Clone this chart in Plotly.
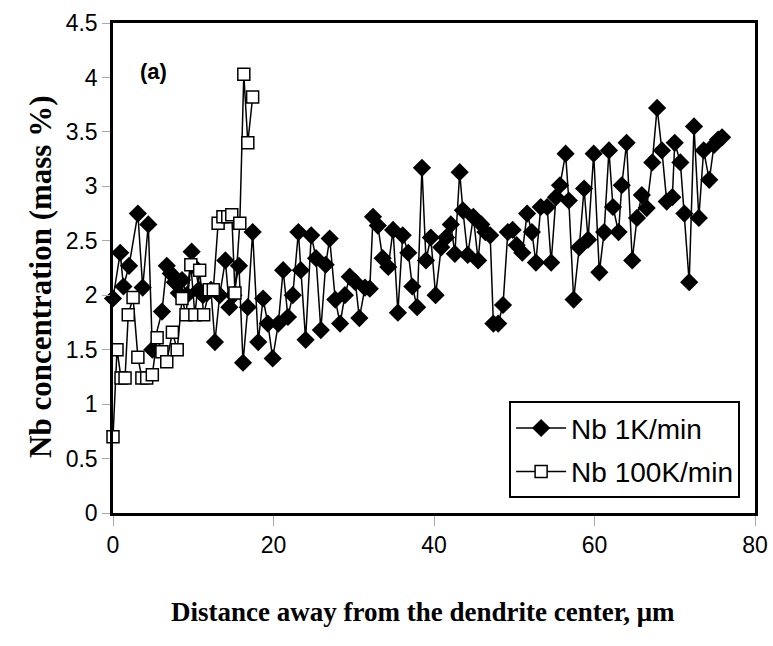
import plotly.graph_objects as go

# Nb 1K/min (diamonds)
x_1k = [0, 0.9, 1.3, 2.0, 3.1, 3.7, 4.4, 4.9, 6.1, 6.7, 7.2, 7.7, 8.2, 8.6, 9.2, 9.8,
        10.3, 10.7, 11.2, 11.7, 12.2, 12.7, 13.3, 14.0, 14.5, 15.0, 15.7, 16.2, 16.8,
        17.4, 18.1, 18.7, 19.3, 19.9, 20.6, 21.2, 21.8, 22.4, 23.1, 23.4, 24.0, 24.7,
        25.3, 25.9, 26.5, 27.0, 27.7, 28.3, 28.9, 29.5, 30.2, 30.7, 31.4, 32.0, 32.4,
        33.0, 33.6, 34.3, 34.9, 35.5, 36.1, 36.8, 37.3, 37.9, 38.5, 39.0, 39.6, 40.2,
        40.9, 41.5, 42.1, 42.6, 43.2, 43.6, 44.2, 44.9, 45.5, 45.9, 46.4, 47.0, 47.4,
        48.0, 48.6, 49.2, 49.8, 50.3, 51.0, 51.6, 52.2, 52.7, 53.3, 54.1, 54.6, 55.2,
        55.7, 56.4, 56.8, 57.4, 58.1, 58.7, 59.2, 59.9, 60.6, 61.2, 61.8, 62.3, 63.0,
        63.4, 64.0, 64.7, 65.3, 65.9, 66.5, 67.2, 67.8, 68.4, 69.0, 69.7, 70.0, 70.7,
        71.2, 71.8, 72.4, 73.0, 73.6, 74.3, 74.9, 75.4, 75.9]
y_1k = [1.97, 2.39, 2.08, 2.27, 2.75, 2.07, 2.65, 1.50, 1.85, 2.27, 2.20, 2.12, 2.02, 2.14, 2.00, 2.40,
        2.25, 2.05, 2.00, 2.02, 2.05, 1.57, 2.00, 2.32, 1.89, 2.00, 2.27, 1.38, 1.89,
        2.58, 1.57, 1.97, 1.74, 1.42, 1.74, 2.23, 1.80, 2.00, 2.58, 2.23, 1.59, 2.55,
        2.34, 1.68, 2.28, 2.52, 1.96, 1.74, 2.00, 2.17, 2.12, 1.79, 2.07, 2.06, 2.72,
        2.64, 2.34, 2.26, 2.60, 1.84, 2.55, 2.39, 2.08, 1.89, 3.17, 2.32, 2.53, 2.00,
        2.44, 2.53, 2.65, 2.38, 3.13, 2.78, 2.37, 2.72, 2.32, 2.65, 2.58, 2.55, 1.74,
        1.74, 1.91, 2.58, 2.60, 2.46, 2.39, 2.75, 2.58, 2.30, 2.81, 2.81, 2.30, 2.90,
        3.01, 3.30, 2.87, 1.96, 2.44, 2.98, 2.51, 3.30, 2.21, 2.58, 3.33, 2.81, 2.58,
        3.01, 3.40, 2.32, 2.71, 2.92, 2.80, 3.22, 3.72, 3.33, 2.86, 2.90, 3.40, 3.22,
        2.75, 2.12, 3.55, 2.71, 3.33, 3.06, 3.38, 3.43, 3.45]

# Nb 100K/min (open squares)
x_100k = [0, 0.5, 1.0, 1.5, 1.9, 2.5, 3.1, 3.6, 4.2, 4.9, 5.5, 6.1, 6.7, 7.4, 8.0, 8.6,
          9.1, 9.7, 10.2, 10.8, 11.3, 12.0, 12.5, 13.1, 13.7, 14.3, 14.8, 15.2, 15.8,
          16.3, 16.8, 17.4]
y_100k = [0.70, 1.50, 1.24, 1.24, 1.82, 1.98, 1.43, 1.24, 1.24, 1.27, 1.61, 1.48, 1.39, 1.66, 1.50, 1.97,
          1.82, 2.28, 1.82, 2.23, 1.82, 2.05, 2.05, 2.66, 2.72, 2.72, 2.74, 2.02, 2.66,
          4.03, 3.40, 3.82]

x_ticks = [0, 20, 40, 60, 80]
y_ticks = [0, 0.5, 1, 1.5, 2, 2.5, 3, 3.5, 4, 4.5]
y_ticktext = ["0", "0.5", "1", "1.5", "2", "2.5", "3", "3.5", "4", "4.5"]

fig = go.Figure()
fig.add_trace(go.Scatter(
    x=x_1k, y=y_1k, mode="lines+markers", name="Nb 1K/min",
    line=dict(color="black", width=1.5),
    marker=dict(symbol="diamond", size=14, color="black", line=dict(color="black", width=0)),
    cliponaxis=False, legendgroup="a"))
fig.add_trace(go.Scatter(
    x=x_100k, y=y_100k, mode="lines+markers", name="Nb 100K/min",
    line=dict(color="black", width=1.5),
    marker=dict(symbol="square", size=12, color="white", line=dict(color="black", width=1.5)),
    cliponaxis=False, legendgroup="b"))

tick_font = dict(family="Liberation Sans, Arial, sans-serif", size=23, color="black")
serif = "Liberation Serif, Times New Roman, serif"

fig.update_layout(
    width=773, height=646,
    margin=dict(l=113, r=18, t=23, b=133, autoexpand=False),
    paper_bgcolor="white", plot_bgcolor="white",
    showlegend=True,
    legend=dict(x=0.617, y=0.03, xanchor="left", yanchor="bottom",
                bordercolor="black", borderwidth=2, bgcolor="white",
                font=dict(family="Liberation Sans, Arial, sans-serif", size=28, color="black"),
                tracegroupgap=4, traceorder="grouped", itemwidth=50),
    xaxis=dict(range=[0, 80], tickvals=x_ticks, showgrid=False, zeroline=False,
               showline=True, linecolor="black", linewidth=2.5, mirror=True,
               ticks="outside", ticklen=10, tickcolor="#aaaaaa", tickwidth=1,
               tickfont=tick_font, automargin=False),
    yaxis=dict(range=[0, 4.5], tickvals=y_ticks, ticktext=y_ticktext, showgrid=False,
               zeroline=False, showline=True, linecolor="black", linewidth=2.5, mirror=True,
               ticks="outside", ticklen=8, tickcolor="#aaaaaa", tickwidth=1,
               tickfont=tick_font, automargin=False),
    annotations=[
        dict(text="<b>(a)</b>", x=40, y=72, xref="x domain", yref="paper",
             showarrow=False),
    ],
)

# positions in pixels converted to paper fractions
W, H = 773, 646
L, R, T, B = 113, 18, 23, 133
pw, ph = W - L - R, H - T - B

def px_to_paper(px, py):
    return (px - L) / pw, (H - B - py) / ph

ax, ay = px_to_paper(153, 72)
bx, by = px_to_paper(423, 612)
cx, cy = px_to_paper(40, 277)
fig.layout.annotations = [
    dict(text="<b>(a)</b>", x=ax, y=ay, xref="paper", yref="paper", showarrow=False,
         xanchor="center", yanchor="middle",
         font=dict(family="Liberation Sans, Arial, sans-serif", size=22, color="black")),
    dict(text="<b>Distance away from the dendrite center, μm</b>", x=bx, y=by,
         xref="paper", yref="paper", showarrow=False, xanchor="center", yanchor="middle",
         font=dict(family=serif, size=27, color="black")),
    dict(text="<b>Nb concentration (mass %)</b>", x=cx, y=cy, textangle=-90,
         xref="paper", yref="paper", showarrow=False, xanchor="center", yanchor="middle",
         font=dict(family=serif, size=31, color="black")),
]

fig.write_html("out.html")
